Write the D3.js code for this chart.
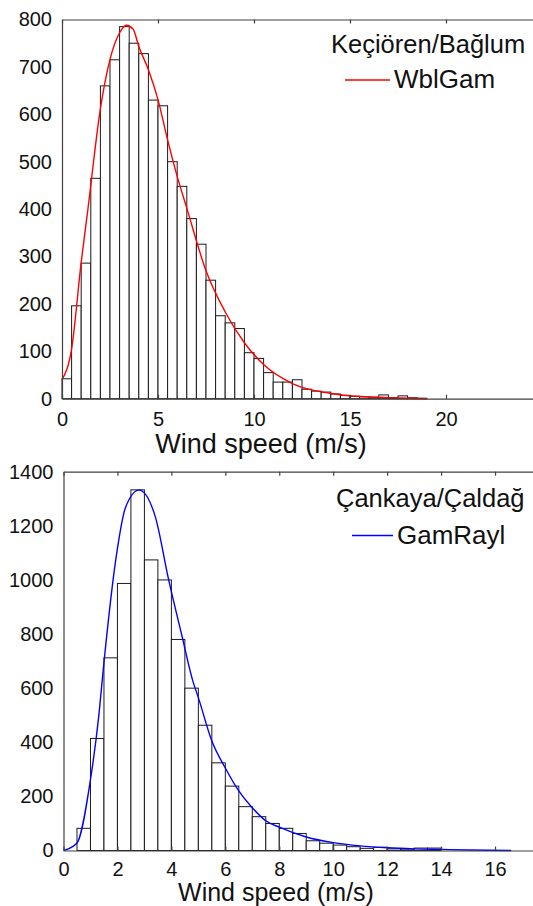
<!DOCTYPE html>
<html>
<head>
<meta charset="utf-8">
<script src="https://cdn.jsdelivr.net/npm/d3@7"></script>
<style>
  html, body { margin: 0; padding: 0; background: #fff; }
  svg { display: block; font-family: "Liberation Sans", Arial, sans-serif; }
  .axis path, .axis line { stroke: #404040; stroke-width: 1.2; }
  .axis text { fill: #111; font-size: 20px; font-family: "Liberation Sans", Arial, sans-serif; }
</style>
</head>
<body>
<svg id="chart" width="533" height="906"></svg>
<script>
// Wind speed histograms with fitted distributions (two stations)

// ---------------------------------------------------------------------------
// DATA
// ---------------------------------------------------------------------------

const BIN_WIDTH = 0.5;

// Keçiören/Bağlum: counts per 0.5 m/s bin starting at 0
const topCounts = [42, 196, 286, 465, 660, 715, 785, 750, 728, 630, 618, 500, 448, 380,
  326, 250, 175, 160, 148, 97, 85, 55, 35, 35, 40, 20, 16, 14, 10, 7, 5, 4, 3, 8, 2, 6, 2, 1];
// WblGam fit
const topCurveX = [0, 0.5, 1.0, 1.35, 2.0, 2.5, 3.0, 3.35, 3.7, 4.0, 4.5, 5.0, 5.5, 6.0,
  6.5, 7.5, 8.5, 9.5, 10.5, 12.0, 14.0, 15.8, 17.6, 19.0];
const topCurveY = [40, 105, 288, 400, 612, 716, 772, 788, 780, 743, 694, 631, 546, 469,
  402, 270, 183, 118, 72, 32, 11, 4, 1.5, 0];
const topXTicks = [0, 5, 10, 15, 20];
const topYTicks = [0, 100, 200, 300, 400, 500, 600, 700, 800];

// Çankaya/Çaldağ
const bottomCounts = [0, 82, 414, 712, 987, 1333, 1074, 1000, 780, 600, 463, 324, 238, 162,
  125, 100, 82, 63, 36, 27, 20, 14, 8, 12, 6, 5, 9, 9];
// GamRayl fit
const bottomCurveX = [0, 0.5, 1.0, 1.3, 1.5, 1.95, 2.3, 2.8, 3.4, 3.9, 4.4, 4.8, 5.0, 5.5,
  6.0, 6.5, 7.0, 7.5, 8.0, 9.0, 10, 11, 12, 13, 14, 15, 16.6];
const bottomCurveY = [0, 28, 262, 490, 695, 1083, 1268, 1332, 1235, 1000, 790, 625, 565, 405,
  305, 220, 158, 110, 86, 50, 29, 17, 10, 6, 4, 2, 0];
const bottomXTicks = [0, 2, 4, 6, 8, 10, 12, 14, 16];
const bottomYTicks = [0, 200, 400, 600, 800, 1000, 1200, 1400];

// ---------------------------------------------------------------------------
// PANELS
// ---------------------------------------------------------------------------

const svg = d3.select('#chart');

function drawPanel(p) {
  const x = d3.scaleLinear().domain(p.xDomain).range([p.left, p.right]);
  const y = d3.scaleLinear().domain(p.yDomain).range([p.bottom, p.top]);
  const g = svg.append('g');

  // bars
  g.append('g').selectAll('rect')
    .data(p.counts)
    .enter()
    .append('rect')
    .attr('x', (d, i) => x(i * BIN_WIDTH))
    .attr('width', x(BIN_WIDTH) - x(0))
    .attr('y', d => y(d))
    .attr('height', d => y(0) - y(d))
    .attr('fill', '#fff')
    .attr('stroke', '#1a1a1a')
    .attr('stroke-width', 1);

  // fitted curve
  const pts = p.curveX.map((v, i) => [v, p.curveY[i]]);
  g.append('path')
    .datum(pts)
    .attr('fill', 'none')
    .attr('stroke', p.color)
    .attr('stroke-width', 1.4)
    .attr('d', d3.line().x(d => x(d[0])).y(d => y(d[1])).curve(d3.curveMonotoneX));

  // axes: bottom with labels, top with ticks only, left with labels
  g.append('g').attr('class', 'axis')
    .attr('transform', `translate(0,${p.bottom})`)
    .call(d3.axisBottom(x).tickValues(p.xTicks).tickSizeInner(-4).tickSizeOuter(0).tickPadding(p.xPad));
  g.append('g').attr('class', 'axis')
    .attr('transform', `translate(0,${p.top})`)
    .call(d3.axisTop(x).tickValues(p.xTicks).tickSizeInner(-4).tickSizeOuter(0).tickFormat(''));
  g.append('g').attr('class', 'axis')
    .attr('transform', `translate(${p.left},0)`)
    .call(d3.axisLeft(y).tickValues(p.yTicks).tickFormat(d3.format('d')).tickSize(0).tickPadding(10));

  // x label
  g.append('text')
    .attr('x', p.labelX).attr('y', p.labelY)
    .attr('text-anchor', 'middle')
    .attr('font-size', p.labelSize)
    .attr('fill', '#111')
    .text('Wind speed (m/s)');

  // legend
  g.append('text')
    .attr('x', p.legX).attr('y', p.legY)
    .attr('font-size', 25.5)
    .attr('fill', '#111')
    .text(p.station);
  g.append('line')
    .attr('x1', p.legLineX1).attr('x2', p.legLineX2)
    .attr('y1', p.legLineY).attr('y2', p.legLineY)
    .attr('stroke', p.color).attr('stroke-width', 1.3);
  g.append('text')
    .attr('x', p.legLineX2 + 4).attr('y', p.legLineY + 8)
    .attr('font-size', 26)
    .attr('fill', '#111')
    .text(p.model);
}

drawPanel({
  counts: topCounts, curveX: topCurveX, curveY: topCurveY,
  xTicks: topXTicks, yTicks: topYTicks,
  xDomain: [0, 25], left: 62, right: 62 + 25 * 19.2,
  yDomain: [0, 800], bottom: 398.7, top: 19.5,
  xPad: 13, color: '#ff0000',
  labelX: 261, labelY: 453, labelSize: 27,
  station: 'Keçiören/Bağlum', model: 'WblGam',
  legX: 331, legY: 53, legLineX1: 345, legLineX2: 390, legLineY: 80
});

drawPanel({
  counts: bottomCounts, curveX: bottomCurveX, curveY: bottomCurveY,
  xTicks: bottomXTicks, yTicks: bottomYTicks,
  xDomain: [0, 18], left: 63.5, right: 63.5 + 18 * 26.97,
  yDomain: [0, 1400], bottom: 850.5, top: 471.7,
  xPad: 11, color: '#0000ff',
  labelX: 276, labelY: 901, labelSize: 25,
  station: 'Çankaya/Çaldağ', model: 'GamRayl',
  legX: 336, legY: 507, legLineX1: 352, legLineX2: 393, legLineY: 535.5
});
</script>
</body>
</html>
